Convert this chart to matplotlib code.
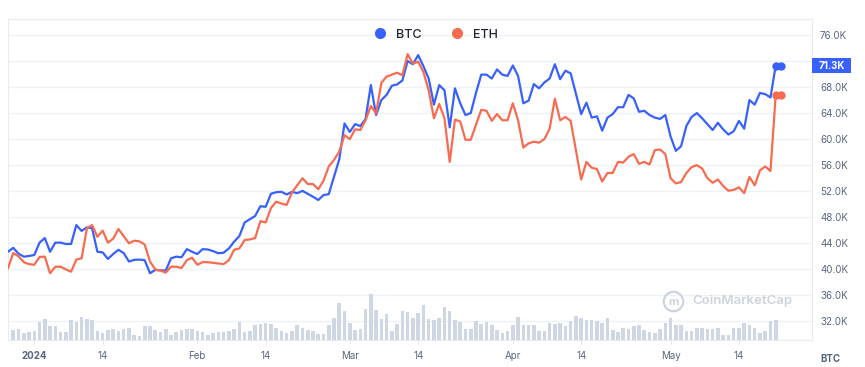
import matplotlib
matplotlib.use('Agg')
import matplotlib.pyplot as plt
from matplotlib.lines import Line2D
from matplotlib.patches import Rectangle
import pandas as pd

plt.rcParams['font.family'] = ['Inter', 'DejaVu Sans']

# Daily closes in thousands (ETH is drawn on the BTC scale, as on the site)
start_date = '2023-12-27'

btc = [42.7, 43.3, 42.4, 41.95, 42.05, 42.2, 44.1, 44.8, 42.7, 44.1,
       44.1, 43.9, 43.9, 46.8, 45.9, 46.45, 46.3, 42.7, 42.6, 41.6,
       42.35, 43.0, 42.5, 41.2, 41.45, 41.5, 41.4, 39.4, 39.9, 39.85,
       39.8, 41.7, 41.95, 41.85, 43.1, 42.7, 42.35, 43.1, 43.05, 42.8,
       42.47, 42.55, 43.2, 44.25, 45.1, 47.2, 47.7, 48.2, 49.7, 49.6,
       51.6, 51.85, 51.9, 51.5, 51.9, 51.7, 52.05, 51.6, 51.15, 50.65,
       51.4, 51.55, 54.2, 56.9, 62.4, 61.1, 62.3, 62.0, 63.1, 68.3,
       63.7, 66.0, 66.8, 68.2, 68.4, 69.0, 72.0, 71.5, 72.9, 71.2,
       69.3, 65.3, 68.3, 67.5, 61.8, 67.8, 65.5, 63.7, 64.0, 67.1,
       69.9, 69.9, 69.3, 70.7, 69.9, 69.7, 71.3, 69.7, 65.5, 65.9,
       68.45, 67.8, 68.7, 69.3, 71.5, 69.2, 70.5, 70.1, 67.0, 63.85,
       65.6, 63.3, 63.5, 61.3, 63.3, 63.85, 64.9, 64.9, 66.8, 66.25,
       64.2, 64.35, 63.7, 63.3, 63.1, 63.7, 60.4, 58.2, 58.9, 62.0,
       63.4, 64.0, 63.2, 62.3, 61.4, 62.5, 61.5, 60.7, 61.2, 62.8,
       61.6, 66.0, 65.3, 67.1, 66.9, 66.4, 71.3, 71.3]

eth = [40.2, 42.5, 42.0, 41.1, 40.8, 40.7, 41.9, 41.95, 39.4, 40.4,
       40.4, 40.0, 39.64, 41.5, 41.7, 46.3, 46.8, 45.0, 45.95, 44.1,
       44.7, 46.2, 45.1, 44.0, 44.4, 44.3, 43.8, 41.2, 40.0, 39.8,
       39.5, 40.4, 40.4, 40.2, 41.4, 41.8, 40.7, 41.1, 41.1, 41.0,
       40.9, 40.8, 41.4, 43.0, 43.2, 44.5, 44.6, 44.8, 47.4, 47.2,
       49.4, 50.4, 50.1, 49.9, 51.8, 52.9, 54.0, 53.1, 53.1, 52.3,
       53.6, 55.8, 56.8, 58.1, 60.6, 60.0, 61.5, 61.4, 62.9, 65.1,
       63.95, 68.65, 69.6, 69.9, 70.2, 69.8, 73.05, 71.6, 71.9, 70.3,
       67.5, 63.2, 65.4, 63.2, 56.5, 63.0, 62.7, 59.9, 59.9, 62.2,
       64.5, 64.35, 62.8, 63.85, 62.9, 62.9, 65.5, 62.9, 58.7, 59.35,
       59.6, 59.45, 60.0, 61.6, 66.2, 62.9, 63.4, 62.8, 58.3, 53.8,
       56.5, 55.6, 55.4, 53.5, 54.8, 54.8, 56.5, 56.4, 57.3, 57.7,
       56.2, 56.5, 56.1, 58.3, 58.4, 57.7, 54.0, 53.2, 53.4, 54.8,
       55.7, 56.0, 55.5, 54.0, 53.3, 53.8, 52.8, 52.07, 52.2, 52.6,
       51.7, 54.2, 52.9, 55.2, 55.8, 55.1, 66.8, 66.8]

# Daily volume in billions USD, from the second day to the second-to-last
volume = [20, 22, 13, 15, 17, 35, 42, 27, 28, 15, 16, 39, 35, 45, 41, 39,
          18, 14, 20, 21, 17, 22, 23, 9, 8, 28, 27, 19, 15, 22, 9, 15, 19,
          21, 21, 17, 16, 10, 13, 15, 15, 17, 22, 35, 15, 17, 29, 32, 34,
          32, 24, 17, 13, 17, 30, 24, 20, 17, 12, 12, 30, 43, 74, 58, 34,
          20, 22, 62, 92, 60, 42, 52, 17, 32, 58, 55, 43, 53, 70, 41, 40,
          43, 66, 58, 40, 36, 21, 22, 38, 32, 36, 30, 20, 14, 17, 29, 45,
          30, 30, 30, 17, 17, 33, 32, 33, 28, 38, 47, 44, 39, 39, 37, 33,
          43, 19, 15, 23, 22, 27, 29, 20, 15, 14, 22, 33, 43, 29, 30, 17,
          17, 23, 23, 22, 21, 23, 10, 10, 23, 23, 34, 29, 23, 14, 17, 37,
          40]

last_price = 71.3

tick_dates = ['2024-01-01', '2024-01-14', '2024-02-01', '2024-02-14',
              '2024-03-01', '2024-03-14', '2024-04-01', '2024-04-14',
              '2024-05-01', '2024-05-14']
tick_labels = ['2024', '14', 'Feb', '14', 'Mar', '14', 'Apr', '14', 'May', '14']
y_ticks = [32, 36, 40, 44, 48, 52, 56, 60, 64, 68, 72, 76]

BLUE = '#3861fb'
RED = '#f76c50'
GREY = '#58667e'
GRID = '#eff2f5'
BAR = '#cfd6e4'


def draw_chart():
    """
    Draws the BTC / ETH price comparison with the volume bars underneath.
    """

    dates = pd.date_range(start_date, periods=len(btc), freq='D')
    vol_dates = dates[1:1 + len(volume)]

    fig = plt.figure(figsize=(8.65, 3.67), dpi=100)
    ax = fig.add_axes([0.00925, 0.0736, 0.9295, 0.8738])

    # Volume sits on its own hidden scale at the bottom
    ax_vol = ax.twinx()
    ax_vol.bar(vol_dates, volume, width=0.68, color=BAR, zorder=1)
    ax_vol.set_ylim(0, 641)
    ax_vol.set_yticks([])
    for s in ax_vol.spines.values():
        s.set_visible(False)

    # Price lines
    ax.plot(dates, btc, color=BLUE, lw=1.6, zorder=3)
    ax.plot(dates, eth, color=RED, lw=1.6, zorder=3)
    ax.plot(dates[-2:], btc[-2:], 'o', color=BLUE, ms=5, zorder=4)
    ax.plot(dates[-2:], eth[-2:], 'o', color=RED, ms=5, zorder=4)

    ax.set_xlim(dates[0], dates[-1] + pd.Timedelta(days=5.9))
    ax.set_ylim(29.15, 78.4)

    # Right hand price axis; the tick hidden under the price tag stays blank
    ax.yaxis.tick_right()
    ax.set_yticks(y_ticks)
    labels = []
    for v in y_ticks:
        if abs(v - last_price) < 1.5:
            labels.append('')
        else:
            labels.append(f'{v:.1f}K')
    ax.set_yticklabels(labels)
    ax.tick_params(axis='y', length=0, pad=5.8, labelsize=7, labelcolor=GREY)
    ax.grid(axis='y', color=GRID, lw=1)
    ax.set_axisbelow(True)

    # Date axis
    ax.set_xticks(pd.to_datetime(tick_dates))
    ax.set_xticklabels(tick_labels)
    ax.tick_params(axis='x', length=3, color='#e3e6eb', pad=5,
                   labelsize=7, labelcolor=GREY)
    ax.get_xticklabels()[0].set_fontweight('bold')

    for s in ax.spines.values():
        s.set_color('#e8ebf0')
        s.set_linewidth(0.8)

    # Current price tag covering the axis
    h = 2.36
    w = 0.049
    ax.add_patch(Rectangle((1.0, last_price - h / 2), w, h,
                           transform=ax.get_yaxis_transform(),
                           clip_on=False, fc=BLUE, ec='none', zorder=5))
    ax.text(1.0 + w / 2, last_price, f'{last_price:.1f}K',
            transform=ax.get_yaxis_transform(), ha='center', va='center',
            color='white', fontsize=7, fontweight='bold', zorder=6)

    # Watermark
    ax.plot([0.827], [0.1225], 'o', transform=ax.transAxes, ms=14,
            mfc='none', mec='#cdd4df', mew=1.6, zorder=2)
    ax.text(0.827, 0.118, 'm', transform=ax.transAxes, ha='center',
            va='center', fontsize=8, color='#cdd4df', fontweight='bold')
    ax.text(0.851, 0.1225, 'CoinMarketCap', transform=ax.transAxes,
            ha='left', va='center', fontsize=9.5, color='#cdd4df',
            fontweight='semibold')

    # Legend on top
    handles = [Line2D([], [], marker='o', ls='', color=BLUE, ms=7),
               Line2D([], [], marker='o', ls='', color=RED, ms=7)]
    fig.legend(handles, ['BTC', 'ETH'], loc='center',
               bbox_to_anchor=(0.5, 0.905), ncol=2, frameon=False,
               prop={'size': 9, 'weight': 'medium'}, handletextpad=0.3,
               columnspacing=1.8, labelcolor='#222531')

    fig.text(0.9595, 0.021, 'BTC', ha='center', va='center', fontsize=7,
             fontweight='bold', color=GREY)

    fig.savefig('out.png', dpi=100)


def main():
    draw_chart()


if __name__ == '__main__':
    main()
